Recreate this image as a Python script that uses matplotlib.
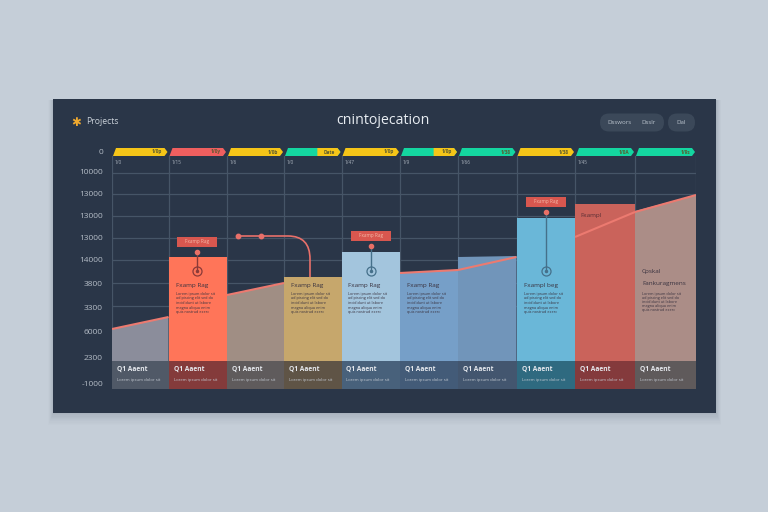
import matplotlib
matplotlib.use("Agg")
import matplotlib.pyplot as plt
from matplotlib.patches import FancyBboxPatch, Polygon, Rectangle
from matplotlib.path import Path
from matplotlib.patches import PathPatch

plt.rcParams['font.family'] = ['Open Sans', 'DejaVu Sans']

# ---- data ----
col_widths = [56.5, 58.5, 57, 57.5, 58.5, 58, 58.5, 58.5, 60, 61]
tops_start = [60, 132, 94, 112, 137, 116, 132, 171, 185, 178]
tops_end = [72, 132, 106, 112, 137, 119, 133, 171, 185, 194]
trend_start = [60, None, 94, None, None, 116, 119, None, 152, 177]
trend_end = [72, None, 106, None, None, 119, 132, None, 177, 194]
footer_height = 28
fills = ['#8b8d9b', '#ff7559', '#a08e84', '#c6a76c', '#a3c5dd', '#769fc8', '#7195ba', '#6ab7d8', '#ca635b', '#ab8d87']
footer_fills = ['#505967', '#843b3b', '#5f5b5c', '#5f5446', '#48617b', '#435b78', '#43566f', '#2f6a80', '#843a3c', '#5f5a5b']
strip_main = ['#f5c518', '#ef5f5f', '#f5c518', '#14d6a0', '#f5c518', '#14d6a0', '#14d6a0', '#f5c518', '#14d6a0', '#14d6a0']
strip_end = ['#f5c518', '#ef5f5f', '#f5c518', '#f5c518', '#f5c518', '#f5c518', '#14d6a0', '#f5c518', '#14d6a0', '#14d6a0']
strip_labels = ['1/0p', '1/0y', '1/0b', 'Date', '1/0p', '1/0p', '1/38', '1/38', '1/0A', '1/9s']
week_labels = ['1/0', '1/15', '1/6', '1/0', '1/47', '1/9', '1/66', '', '1/45', '']
tick_values = [237, 218, 195, 173, 151, 129, 106, 82, 57, 31, 6]
tick_labels = ['0', '10000', '13000', '13000', '13000', '14000', '3800', '3300', '6000', '2300', '-1000']
grid_values = [216, 195, 173, 151, 129, 106, 83]
headings = ['', 'Fxamp Rag', '', 'Fxamp Rag', 'Fxamp Rag', 'Fxamp Rag', '', 'Fxampl beg', '', 'Fankuragmens']
footer_titles = ['Q1 Aaent'] * 10
footer_subs = ['Lorem ipsum dolor sit'] * 10
body_lines = ['Lorem ipsum dolor sit', 'adipiscing elit sed do', 'incididunt ut labore', 'magna aliqua enim', 'quis nostrud exerc']
callouts = [(1, 'Fxamp Rag', 147), (4, 'Fxamp Rag', 153), (7, 'Fxamp Rag', 187)]

# ---- figure ----
fig = plt.figure(figsize=(7.68, 5.12), dpi=100, facecolor='#c5ced8')
W, H = 768, 512

bg = fig.add_axes([0, 0, 1, 1], zorder=0)
bg.set_xlim(0, W); bg.set_ylim(H, 0); bg.axis('off')
for i, a in zip(range(10, 0, -1), [.008, .01, .012, .014, .016, .018, .02, .022, .025, .03]):
    bg.add_patch(Rectangle((53 - i / 2, 100), 663 + i, 313 + i * 1.2, fc='#3a4656', ec='none', alpha=a))
bg.add_patch(Rectangle((53, 99), 663, 314, fc='#2a3648', ec='none'))

# header
bg.text(383, 121, 'cnintojecation', ha='center', va='center', fontsize=10.2, color='#e8edf2')
bg.text(86, 122, 'Projects', ha='left', va='center', fontsize=6.2, color='#c9d0d8')
bg.text(76, 122, '✱', ha='center', va='center', fontsize=8.5, color='#f0a92e', family=['DejaVu Sans'])
bg.add_patch(FancyBboxPatch((600, 113.5), 64, 18, boxstyle='round,pad=0,rounding_size=9', fc='#3b4859', ec='none'))
bg.add_patch(FancyBboxPatch((668, 113.5), 27, 18, boxstyle='round,pad=0,rounding_size=9', fc='#3b4859', ec='none'))
bg.text(619, 123, 'Dsswors', ha='center', va='center', fontsize=4.4, color='#b9c2cc')
bg.text(648, 123, 'Dsslr', ha='center', va='center', fontsize=4.4, color='#b9c2cc')
bg.text(681, 123, 'Dal', ha='center', va='center', fontsize=4.4, color='#b9c2cc')

# main axes
ax = fig.add_axes([112 / W, 1 - 389 / H, 584 / W, 244 / H], zorder=1)
ax.patch.set_alpha(0)
edges = [0]
for w in col_widths:
    edges.append(edges[-1] + w)
ax.set_xlim(0, edges[-1]); ax.set_ylim(0, 244)
for s in ax.spines.values():
    s.set_visible(False)
ax.set_xticks([])
ax.set_yticks(tick_values, tick_labels)
ax.tick_params(axis='y', length=0, pad=6.5, labelsize=6, labelcolor='#b4bcc6')

for g in grid_values:
    ax.plot([0, edges[-1]], [g, g], color='#465567', lw=0.9, zorder=1)
for e in edges:
    ax.plot([e, e], [0, 233], color='#465567', lw=0.9, zorder=1)

for i in range(10):
    x0, x1 = edges[i], edges[i + 1]
    ax.add_patch(Polygon([(x0, footer_height), (x0, tops_start[i]), (x1, tops_end[i]), (x1, footer_height)],
                         fc=fills[i], ec='none', zorder=2))
    ax.add_patch(Rectangle((x0, 0), x1 - x0, footer_height, fc=footer_fills[i], ec='none', zorder=3))
    ax.text(x0 + 5, 20, footer_titles[i], fontsize=4.8, fontweight='bold', color='#e6e9ee', va='center', zorder=5)
    ax.text(x0 + 5, 8.5, footer_subs[i], fontsize=3.1, color='#c2c8d0', va='center', zorder=5)
    if trend_start[i] is not None:
        ax.plot([x0, x1], [trend_start[i], trend_end[i]], color='#ec7a70', lw=1.5, zorder=4, solid_capstyle='butt')
    # strip chevron
    a, b = x0 + 1, x1 - 1
    ax.add_patch(Polygon([(a, 233), (a + 3, 241), (b - 3, 241), (b, 237), (b - 3, 233)],
                         fc=strip_main[i], ec='none', zorder=3))
    if strip_end[i] != strip_main[i]:
        c = x0 + (x1 - x0) * 0.58
        ax.add_patch(Polygon([(c, 233), (c, 241), (b - 3, 241), (b, 237), (b - 3, 233)],
                             fc=strip_end[i], ec='none', zorder=4))
    ax.text(b - 5, 237, strip_labels[i], fontsize=3.4, fontweight='bold', color='#5a5a30', ha='right', va='center', zorder=5)
    if week_labels[i]:
        ax.text(x0 + 3, 227, week_labels[i], fontsize=3.4, color='#aab3bd', va='center', zorder=5)
    # card text
    if headings[i]:
        tx = x0 + 7
        dark = '#3a3340'
        if i == 9:
            ax.text(tx, 117, 'Cpskal', fontsize=4.6, color=dark, va='center', zorder=5)
            ax.text(tx, 105, headings[i], fontsize=4.6, color=dark, va='center', zorder=5)
            ys = [95, 91, 87, 83, 79]
        else:
            ax.text(tx, 103.5, headings[i], fontsize=4.6, color=dark, va='center', zorder=5)
            ys = [95, 90.5, 86, 81.5, 77]
        for yy, line in zip(ys, body_lines):
            ax.text(tx, yy, line, fontsize=2.7, color=dark, va='center', zorder=5)
ax.text(edges[8] + 5, 173, 'Fxampl', fontsize=4.6, color='#5a2f35', va='center', zorder=5)

# callouts
for col, text, ly in callouts:
    xc = (edges[col] + edges[col + 1]) / 2 + (-1 if col == 1 else 0)
    ax.add_patch(Rectangle((xc - 20, ly - 5), 40, 10, fc='#d8574f', ec='none', zorder=6))
    ax.text(xc, ly, text, fontsize=3.3, color='#f4b9a8', ha='center', va='center', zorder=7)
    stem = '#8a3a38' if col == 1 else '#45708a'
    ax.plot([xc, xc], [118, ly - 10], color=stem, lw=1, zorder=6)
    ax.plot([xc], [ly - 10], 'o', ms=3, color='#e86f66', zorder=7)
    ax.plot([xc], [118], 'o', ms=6.5, mfc='none', mec=stem, mew=0.9, zorder=7)
    ax.plot([xc], [118], 'o', ms=1.5, color=stem, zorder=7)

# curved connector
path = Path([(126, 153), (176, 153), (176, 153), (198, 153), (198, 130), (198, 112)],
            [Path.MOVETO, Path.LINETO, Path.LINETO, Path.CURVE3, Path.CURVE3, Path.LINETO])
ax.add_patch(PathPatch(path, fc='none', ec='#e8706a', lw=1.2, zorder=6))
ax.plot([126, 149], [153, 153], 'o', ms=3.2, color='#e8706a', zorder=7)

fig.savefig('out.png', dpi=100, facecolor=fig.get_facecolor())
